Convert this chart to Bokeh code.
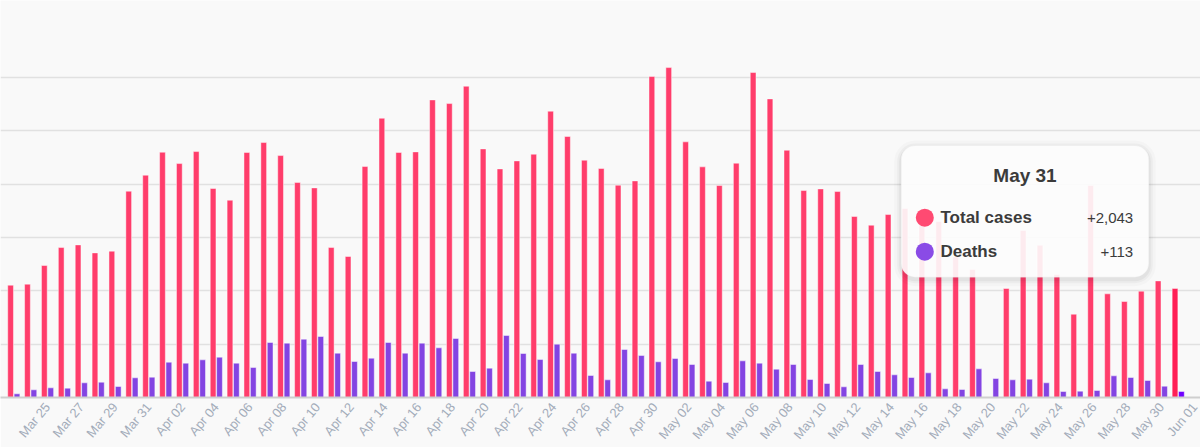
import math
import numpy as np
import pandas as pd
from bokeh.plotting import figure
from bokeh.models import (ColumnDataSource, Range1d, FixedTicker,
                          BoxAnnotation, Label)
from bokeh.transform import dodge
from bokeh.embed import file_html
from bokeh.resources import INLINE

# ---------------- data ----------------
START_DATE = "2020-03-23"
END_DATE = "2020-05-31"

TOTAL_CASES = [
    2106, 2125, 2475, 2812, 2862, 2712, 2744, 3869, 4169,            # Mar 23-31
    4600, 4387, 4612, 3919, 3700, 4594, 4781, 4537, 4031, 3931,      # Apr 1-10
    2812, 2644, 4331, 5237, 4594, 4606, 5581, 5512, 5837, 4662,      # Apr 11-20
    4287, 4437, 4562, 5369, 4894, 4450, 4294, 3981, 4062, 6019,      # Apr 21-30
    6187, 4794, 4325, 3975, 4394, 6094, 5600, 4637, 3881, 3912,      # May 1-10
    3862, 3394, 3231, 3431, 3544, 3300, 3300, 2636, 2400, 0,         # May 11-20
    2044, 3131, 2856, 2306, 1562, 3975, 1944, 1800, 1994, 2187,      # May 21-30
    2043,                                                            # May 31
]
DEATHS = [
    69, 144, 181, 175, 275, 287, 206, 369, 381,
    662, 644, 706, 756, 644, 562, 1031, 1019, 1094, 1144,
    831, 675, 737, 1031, 831, 1019, 931, 1106, 487, 550,
    1162, 825, 712, 1000, 831, 412, 331, 900, 787, 669,
    731, 619, 306, 281, 687, 644, 531, 619, 337, 262,
    200, 619, 487, 425, 375, 462, 162, 150, 537, 356,
    331, 344, 275, 112, 119, 131, 406, 375, 319, 212,
    113,
]
TICK_LABELS = [
    "Mar 23", "Mar 25", "Mar 27", "Mar 29", "Mar 31", "Apr 02", "Apr 04",
    "Apr 06", "Apr 08", "Apr 10", "Apr 12", "Apr 14", "Apr 16", "Apr 18",
    "Apr 20", "Apr 22", "Apr 24", "Apr 26", "Apr 28", "Apr 30", "May 02",
    "May 04", "May 06", "May 08", "May 10", "May 12", "May 14", "May 16",
    "May 18", "May 20", "May 22", "May 24", "May 26", "May 28", "May 30",
    "Jun 01",
]
SERIES_NAMES = ["Total cases", "Deaths"]
HOVER_DATE = "May 31"
GRID_VALUES = [1000, 2000, 3000, 4000, 5000, 6000]

# ---------------- styles ----------------
BG = "#f9f9f9"
RED = "#ff3d6b"
RED_HI = "#ff1f55"
PURPLE = "#8344e2"
PURPLE_HI = "#7000ff"
FONT = "Liberation Sans"
TICK_COLOR = "#a3acb9"
TICK_SIZE = "13px"
TICK_ANGLE = math.radians(50)
STANDOFF = 7
FRAME_H = 397

dates = pd.date_range(START_DATE, END_DATE, freq="D")
start = dates[0]
day = np.arange(len(dates))
labels = [d.strftime("%b %d") for d in dates]
hover_idx = labels.index(HOVER_DATE)

case_colors = [RED_HI if i == hover_idx else RED for i in day]
death_colors = [PURPLE_HI if i == hover_idx else PURPLE for i in day]

src = ColumnDataSource(dict(day=day, cases=TOTAL_CASES, deaths=DEATHS,
                            cc=case_colors, dc=death_colors))

tick_pos = [(pd.Timestamp(f"{lab} {start.year}") - start).days for lab in TICK_LABELS]

p = figure(frame_width=1200, frame_height=FRAME_H, output_backend="svg",
           toolbar_location=None,
           x_range=Range1d(-0.788, 70.32), y_range=Range1d(0, 7445),
           y_axis_location=None, min_border_left=0, min_border_right=0,
           min_border_top=0, min_border_bottom=0,
           background_fill_color=BG, border_fill_color=BG,
           outline_line_color=None)
p.xgrid.visible = False
p.ygrid.ticker = FixedTicker(ticks=GRID_VALUES)
p.ygrid.grid_line_color = "#e1e1e1"
p.ygrid.grid_line_width = 1.6

p.vbar(x=dodge("day", -0.19, range=p.x_range), top="cases", width=0.34,
       source=src, fill_color="cc", line_color="white", line_alpha=0.45,
       line_width=1)
p.vbar(x=dodge("day", 0.19, range=p.x_range), top="deaths", width=0.34,
       source=src, fill_color="dc", line_color="white", line_alpha=0.45,
       line_width=1)

ax = p.xaxis[0]
ax.ticker = FixedTicker(ticks=tick_pos)
overrides = {t: lab for t, lab in zip(tick_pos, TICK_LABELS)}
# the first label sits half outside the chart: Bokeh would nudge it inward,
# so it is drawn below as a Label that the page edge clips like the original
overrides[tick_pos[0]] = ""
ax.major_label_overrides = overrides
ax.major_label_orientation = TICK_ANGLE
ax.major_label_text_font = FONT
ax.major_label_text_font_size = TICK_SIZE
ax.major_label_text_color = TICK_COLOR
ax.major_label_standoff = STANDOFF
ax.major_tick_out = 0
ax.major_tick_in = 0
ax.major_tick_line_color = None
ax.minor_tick_line_color = None
ax.axis_line_color = "#cfcfcf"
ax.axis_line_width = 2

p.add_layout(Label(x=tick_pos[0], x_units="data", y=FRAME_H + STANDOFF + 1,
                   y_units="canvas", text=TICK_LABELS[0], angle=TICK_ANGLE,
                   text_align="right", text_baseline="middle", text_font=FONT,
                   text_font_size=TICK_SIZE, text_color=TICK_COLOR))

# ---------------- hover tooltip (static) ----------------
L, R, T, B = 900.7, 1148.3, 145.0, 276.7
for grow, alpha in [(7, 0.02), (4, 0.03), (2, 0.04)]:
    p.add_layout(BoxAnnotation(left=L - grow, right=R + grow, top=T - grow + 2,
                               bottom=B + grow + 2, left_units="canvas",
                               right_units="canvas", top_units="canvas",
                               bottom_units="canvas", fill_color="black",
                               fill_alpha=alpha, line_color=None,
                               border_radius=14 + grow))
p.add_layout(BoxAnnotation(left=L, right=R, top=T, bottom=B,
                           left_units="canvas", right_units="canvas",
                           top_units="canvas", bottom_units="canvas",
                           fill_color="white", fill_alpha=0.9,
                           line_color="#e8e8e8", line_width=1,
                           border_radius=14))

cx = 924.3
rows_y = [217.2, 251.2]
for cy, col in zip(rows_y, ["#ff4a72", "#8a4be6"]):
    p.add_layout(BoxAnnotation(left=cx - 9, right=cx + 9, top=cy - 9, bottom=cy + 9,
                               left_units="canvas", right_units="canvas",
                               top_units="canvas", bottom_units="canvas",
                               fill_color=col, fill_alpha=1, line_color=None,
                               border_radius=9))

TXT = "#3b3b3b"
p.add_layout(Label(x=(L + R) / 2, y=175, x_units="canvas", y_units="canvas",
                   text=HOVER_DATE, text_align="center", text_baseline="middle",
                   text_font=FONT, text_font_style="bold", text_font_size="19px",
                   text_color=TXT))
vals = [f"+{TOTAL_CASES[hover_idx]:,}", f"+{DEATHS[hover_idx]:,}"]
for cy, name, v in zip(rows_y, SERIES_NAMES, vals):
    p.add_layout(Label(x=940, y=cy, x_units="canvas", y_units="canvas", text=name,
                       text_align="left", text_baseline="middle", text_font=FONT,
                       text_font_style="bold", text_font_size="17px", text_color=TXT))
    p.add_layout(Label(x=1132.7, y=cy, x_units="canvas", y_units="canvas", text=v,
                       text_align="right", text_baseline="middle", text_font=FONT,
                       text_font_size="15px", text_color=TXT))

open("out.html", "w").write(file_html(p, INLINE))
